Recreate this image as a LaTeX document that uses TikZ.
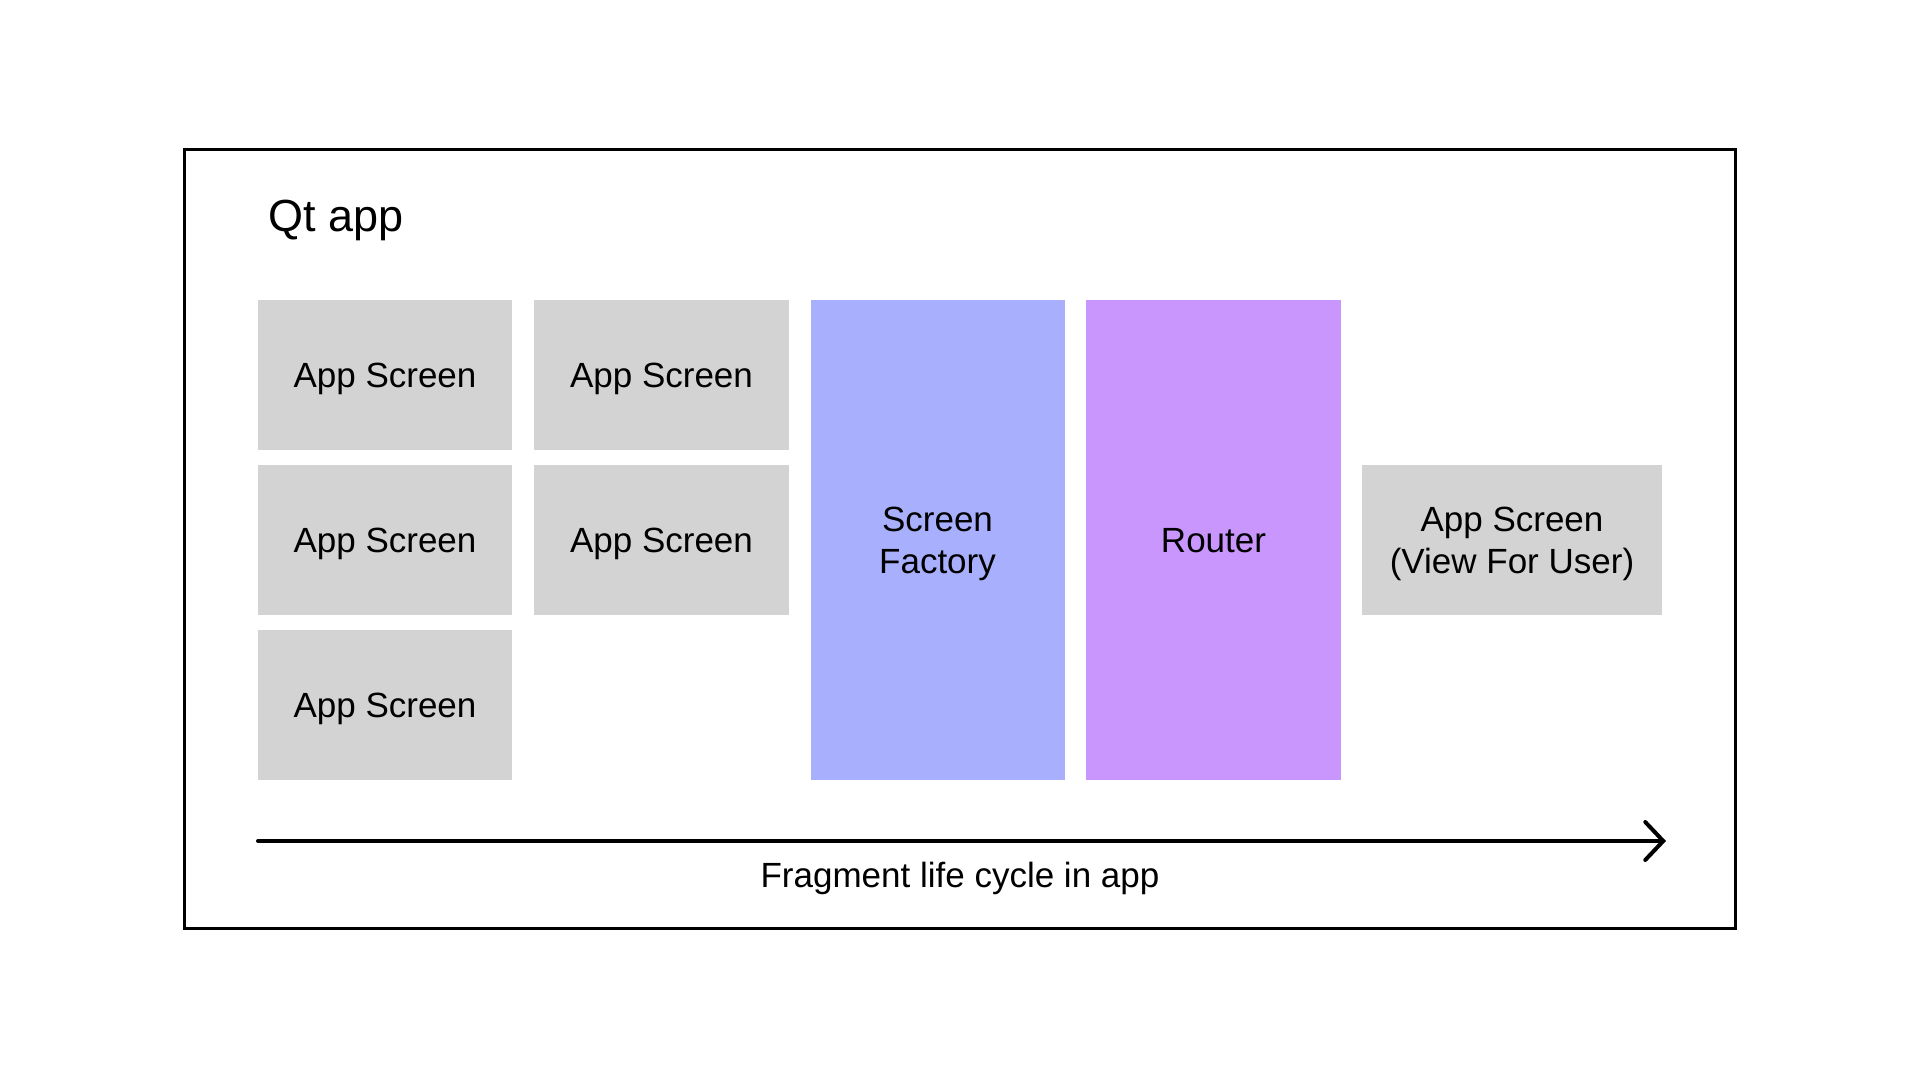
\documentclass[tikz,border=0pt]{standalone}
\usepackage{fontspec}
\setmainfont{Liberation Sans}
\usetikzlibrary{arrows.meta}

\definecolor{screengray}{HTML}{D3D3D3}
\definecolor{factoryblue}{HTML}{A8B0FE}
\definecolor{routerpurple}{HTML}{C996FD}

\tikzset{
  block/.style={inner sep=0pt, outer sep=0pt, align=center,
    text depth=0pt, font=\fontsize{35}{42}\selectfont},
  oneline/.style={text height=25pt},
  screen/.style={block, fill=screengray, minimum width=254pt, minimum height=150pt},
  tallblock/.style={block, minimum width=254pt, minimum height=480pt},
  caption/.style={inner sep=0pt, font=\fontsize{35}{42}\selectfont},
  flow/.style={line width=4pt, line cap=round,
    -{Straight Barb[length=18pt, width=38pt, line cap=round]}}
}

\begin{document}
\begin{tikzpicture}[x=1pt, y=-1pt]
  \useasboundingbox (0,0) rectangle (1920,1080);

  % outer application frame
  \node[draw, line width=3pt, inner sep=0pt, minimum width=1550.5pt,
        minimum height=778.5pt] (app) at (959.75,538.75) {};
  \node[anchor=base west, inner sep=0pt, font=\fontsize{45}{50}\selectfont]
        (title) at (268,231) {Qt app};

  % grid of application screens
  \node[screen, oneline] (s11) at (385,375) {App Screen};
  \node[screen, oneline] (s21) at (385,540) {App Screen};
  \node[screen, oneline] (s31) at (385,705) {App Screen};
  \node[screen, oneline, minimum width=255pt] (s12) at (661.5,375) {App Screen};
  \node[screen, oneline, minimum width=255pt] (s22) at (661.5,540) {App Screen};

  % factory and router columns
  \node[tallblock, fill=factoryblue] (factory) at (937.5,540) {Screen\\Factory};
  \node[tallblock, oneline, fill=routerpurple, minimum width=255pt] (router) at (1213.5,540) {Router};

  % screen shown to the user
  \node[screen, minimum width=300pt] (view) at (1512,540) {App Screen\\(View For User)};

  % life-cycle axis
  \coordinate (axisstart) at (258,841);
  \coordinate (axisend) at (1666,841);
  \draw[flow] (axisstart) -- (axisend);
  \node[caption, anchor=base] (axislabel) at (960,887) {Fragment life cycle in app};
\end{tikzpicture}
\end{document}
